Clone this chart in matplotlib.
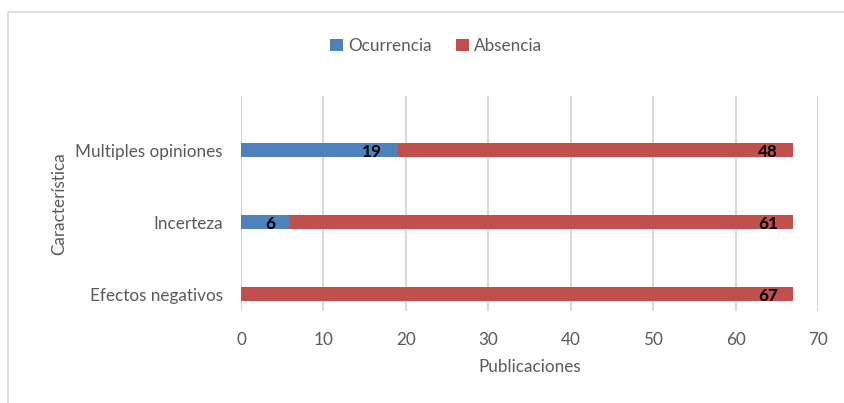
import matplotlib.pyplot as plt
from matplotlib.patches import Rectangle
from matplotlib.transforms import offset_copy

categories = ["Efectos negativos", "Incerteza", "Multiples opiniones"]
ocurrencia = [0, 6, 19]
absencia = [67, 61, 48]
series_names = ["Ocurrencia", "Absencia"]
xticks = [0, 10, 20, 30, 40, 50, 60, 70]

BLUE = "#4F81BD"
RED = "#C0504D"
GRID = "#D9D9D9"
TEXT = "#595959"
FS = 12.3

plt.rcParams["font.family"] = ["Lato", "DejaVu Sans"]

fig = plt.figure(figsize=(8.45, 4.03), dpi=100)
W, H = 845, 403
ax = fig.add_axes([241 / W, 1 - 311 / H, (818 - 241) / W, (311 - 96) / H])

# chart frame
fig.patches.append(Rectangle((8 / W, -0.05), 1.2, 1 - 12 / H + 0.05,
                             transform=fig.transFigure, fill=False,
                             edgecolor="#D9D9D9", linewidth=1.2))

y = list(range(len(categories)))
h = 0.19
b1 = ax.barh(y, ocurrencia, height=h, color=BLUE, label=series_names[0], zorder=3)
b2 = ax.barh(y, absencia, left=ocurrencia, height=h, color=RED, label=series_names[1], zorder=3)

# value labels at the inner end of each segment
for bars, vals, lefts in ((b1, ocurrencia, [0] * 3), (b2, absencia, ocurrencia)):
    for yi, v, l in zip(y, vals, lefts):
        if v == 0:
            continue
        tr = offset_copy(ax.transData, fig=fig, x=-11, y=-1.5, units="points")
        ax.text(l + v, yi, str(v), transform=tr, ha="right", va="center",
                fontsize=FS, fontweight="bold", color="black", zorder=4)

ax.set_xlim(0, 70)
ax.set_ylim(-0.236, 2.75)
ax.set_xticks(xticks)
ax.set_yticks(y)
ax.set_yticklabels(categories)
ax.tick_params(axis="both", length=0, labelsize=FS, colors=TEXT)
ax.tick_params(axis="x", pad=15)
ax.tick_params(axis="y", pad=13)
ax.grid(axis="x", color=GRID, linewidth=1.5, zorder=0)
for s in ax.spines.values():
    s.set_visible(False)

ax.set_xlabel("Publicaciones", fontsize=FS, color=TEXT, labelpad=8)
ax.set_ylabel("Característica", fontsize=FS, color=TEXT, labelpad=6)

fig.legend(handles=[b1, b2], labels=series_names, loc="center",
           bbox_to_anchor=(436 / W, 1 - 46 / H), ncol=2, frameon=False,
           fontsize=FS, handlelength=0.75, handleheight=0.75,
           handletextpad=0.3, columnspacing=1.4, labelcolor=TEXT)

fig.savefig("out.png", dpi=100, facecolor="white")
